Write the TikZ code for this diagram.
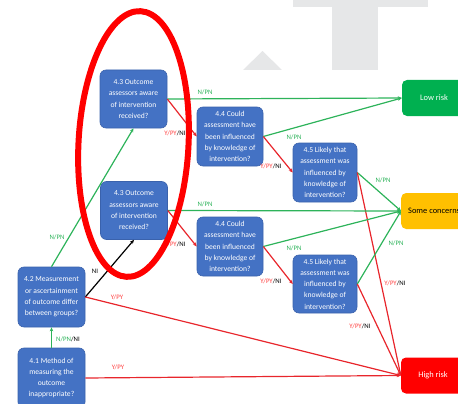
\documentclass[tikz,border=0pt]{standalone}
\usepackage{fontspec}
\setmainfont{Carlito}
\usetikzlibrary{arrows.meta}
\definecolor{qblue}{HTML}{4472C4}
\definecolor{qborder}{HTML}{3A62AC}
\definecolor{lgreen}{HTML}{00B050}
\definecolor{lred}{HTML}{FF0000}
\definecolor{amber}{HTML}{FFC000}
\definecolor{edgegreen}{HTML}{2DB35A}
\definecolor{edgered}{HTML}{E8262C}
\definecolor{labgreen}{HTML}{2DB35A}
\definecolor{labred}{HTML}{FF4040}
\definecolor{wm}{HTML}{E6E7E8}
\begin{document}
\begin{tikzpicture}[x=1pt,y=-1pt,
  q/.style={draw=qborder, line width=0.6pt, fill=qblue, rounded corners=6pt, text=white, align=center,
    font=\fontsize{7.6}{11.3}\selectfont, minimum width=67pt, minimum height=58pt, inner sep=0pt},
  res/.style={rounded corners=5pt, minimum height=36pt, inner sep=0pt, font=\fontsize{8.4}{10}\selectfont},
  tip/.style={-{Stealth[length=4pt,width=3.5pt]}},
  ge/.style={draw=edgegreen, line width=1.2pt, tip},
  re/.style={draw=edgered, line width=1.2pt, tip},
  be/.style={draw=black, line width=1.2pt, tip},
  lab/.style={font=\fontsize{6.8}{8}\selectfont, inner sep=0pt}
]
\useasboundingbox (0,0) rectangle (458,404);
\clip (0,0) rectangle (458,404);
% watermark
\fill[wm] (293,0) rectangle (428,7);
\fill[wm] (332,0) rectangle (378,70);
\fill[wm] (243,70) -- (262.5,51) -- (282,70) -- cycle;

% question nodes
\node[q, minimum height=60pt] (n41) at (51.5,378) {4.1 Method of\\measuring the\\outcome\\inappropriate?};
\node[q, minimum height=60pt] (n42) at (51.5,297) {4.2 Measurement\\or ascertainment\\of outcome differ\\between groups?};
\node[q] (n43a) at (133.5,99) {4.3 Outcome\\assessors aware\\of intervention\\received?};
\node[q] (n43b) at (134,210.5) {4.3 Outcome\\assessors aware\\of intervention\\received?};
\node[q, minimum width=66pt, minimum height=59pt] (n44a) at (230,136.5) {4.4 Could\\assessment have\\been influenced\\by knowledge of\\intervention?};
\node[q, minimum width=66pt, minimum height=59pt] (n44b) at (230,246.5) {4.4 Could\\assessment have\\been influenced\\by knowledge of\\intervention?};
\node[q, minimum width=64pt, minimum height=59pt] (n45a) at (325,172.5) {4.5 Likely that\\assessment was\\influenced by\\knowledge of\\intervention?};
\node[q, minimum width=64pt, minimum height=58pt] (n45b) at (325,284) {4.5 Likely that\\assessment was\\influenced by\\knowledge of\\intervention?};

% result nodes
\node[res, fill=lgreen, text=white, minimum width=64pt] (low) at (434,98) {Low risk};
\node[res, fill=amber, text=black, anchor=west, inner xsep=7pt] (some) at (401,211) {Some concerns};
\node[res, fill=lred, text=white, minimum width=64pt] (high) at (433,375.5) {High risk};

% connectors
\draw[ge] (n41.north) -- (n42.south);
\draw[re] (n41.east) -- (high.west);
\draw[ge] (n42.north) -- (n43a.south);
\draw[be] (n42.east) -- (n43b.south);
\draw[re] (n42.east) -- (high.west);
\draw[ge] (n43a.east) -- (low.west);
\draw[re] (n43a.east) -- (n44a.west);
\draw[ge] (n44a.east) -- (low.west);
\draw[re] (n44a.east) -- (n45a.west);
\draw[ge] (n45a.east) -- (some.west);
\draw[re] (n45a.east) -- (high.west);
\draw[ge] (n43b.east) -- (some.west);
\draw[re] (n43b.east) -- (n44b.west);
\draw[ge] (n44b.east) -- (some.west);
\draw[re] (n44b.east) -- (n45b.west);
\draw[ge] (n45b.east) -- (some.west);
\draw[re] (n45b.east) -- (high.west);

% labels
\node[lab] (l1) at (68,339) {\color{labgreen}N/PN\color{black}/NI};
\node[lab] (l2) at (118,367) {\color{labred}Y/PY};
\node[lab] (l3) at (117,297) {\color{labred}Y/PY};
\node[lab] (l4) at (95,271) {NI};
\node[lab] (l5) at (57,237) {\color{labgreen}N/PN};
\node[lab] (l6) at (205,92) {\color{labgreen}N/PN};
\node[lab] (l7) at (175,133) {\color{labred}Y/PY\color{black}/NI};
\node[lab] (l8) at (294,137) {\color{labgreen}N/PN};
\node[lab] (l9) at (271,166) {\color{labred}Y/PY\color{black}/NI};
\node[lab] (l10) at (205,204) {\color{labgreen}N/PN};
\node[lab] (l11) at (175,244) {\color{labred}Y/PY\color{black}/NI};
\node[lab] (l12) at (294,248) {\color{labgreen}N/PN};
\node[lab] (l13) at (271,281) {\color{labred}Y/PY\color{black}/NI};
\node[lab] (l14) at (383,180) {\color{labgreen}N/PN};
\node[lab] (l15) at (395,283) {\color{labred}Y/PY\color{black}/NI};
\node[lab] (l16) at (396,243) {\color{labgreen}N/PN};
\node[lab] (l17) at (360,326) {\color{labred}Y/PY\color{black}/NI};

% highlight ellipse
\draw[lred, line width=6pt, rotate around={-3:(133.5,144)}] (133.5,144) ellipse [x radius=55pt, y radius=133pt];
\end{tikzpicture}
\end{document}
